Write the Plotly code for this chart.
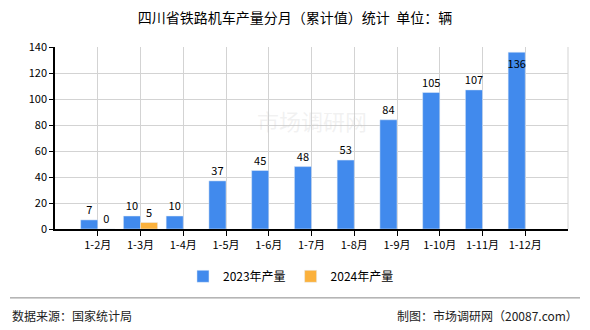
import plotly.graph_objects as go

categories = ["1-2月", "1-3月", "1-4月", "1-5月", "1-6月", "1-7月", "1-8月", "1-9月", "1-10月", "1-11月", "1-12月"]
values_2023 = [7, 10, 10, 37, 45, 48, 53, 84, 105, 107, 136]
values_2024 = [0, 5, None, None, None, None, None, None, None, None, None]
series_names = ["2023年产量", "2024年产量"]
y_ticks = [0, 20, 40, 60, 80, 100, 120, 140]

FONT = "SimSun, 'Noto Sans CJK SC', sans-serif"
BLUE = "#418AED"
ORANGE = "#FBB13C"

pos_2023 = ["outside"] * (len(values_2023) - 1) + ["inside"]

fig = go.Figure()
fig.add_trace(go.Bar(
    x=categories, y=values_2023, name=series_names[0], marker_color=BLUE,
    text=[str(v) for v in values_2023], textposition=pos_2023, textangle=0,
    insidetextanchor="end", cliponaxis=False, constraintext="none",
    textfont=dict(color="black", size=11, family=FONT),
    outsidetextfont=dict(color="black", size=11, family=FONT),
    insidetextfont=dict(color="black", size=11, family=FONT),
))
fig.add_trace(go.Bar(
    x=categories, y=values_2024, name=series_names[1], marker_color=ORANGE,
    text=[("" if v is None else str(v)) for v in values_2024], textposition="outside",
    textangle=0, cliponaxis=False, constraintext="none",
    textfont=dict(color="black", size=11, family=FONT),
))

fig.update_layout(
    width=590, height=330,
    margin=dict(l=55, r=22, t=47, b=101),
    plot_bgcolor="white", paper_bgcolor="white",
    barmode="group", bargap=0.2, bargroupgap=0,
    font=dict(family=FONT, size=11, color="black"),
    title=dict(text="四川省铁路机车产量分月（累计值）统计  单位：辆", x=0.5, xanchor="center",
               y=0.945, yanchor="middle", font=dict(size=14, family=FONT, color="black")),
    legend=dict(orientation="h", x=0.46, xanchor="center", y=-0.26, yanchor="middle",
                font=dict(size=12, family=FONT), itemwidth=30, traceorder="normal"),
)
fig.update_xaxes(
    type="category", range=[-1, len(categories)],
    showline=True, linecolor="black", linewidth=1.5,
    ticks="outside", ticklen=5, tickcolor="black",
    showgrid=True, gridcolor="#d3d3d3", gridwidth=1,
    tickfont=dict(size=11, family=FONT), mirror=False,
)
fig.update_yaxes(
    range=[0, 140], tickvals=y_ticks,
    showline=True, linecolor="black", linewidth=1.5,
    ticks="outside", ticklen=4, tickcolor="black",
    showgrid=True, gridcolor="#d3d3d3", gridwidth=1,
    tickfont=dict(size=11, family=FONT), zeroline=False,
)
# right border of plot area
fig.add_shape(type="line", xref="paper", yref="paper", x0=1, x1=1, y0=0, y1=1,
              line=dict(color="#d3d3d3", width=1))
# footer separator
fig.add_shape(type="line", xref="paper", yref="paper", x0=-45/513, x1=525/513,
              y0=-69/182.3, y1=-69/182.3, line=dict(color="#888888", width=1))
fig.add_annotation(text="数据来源：国家统计局", xref="paper", yref="paper",
                   x=-45/513, y=-87/182.3, xanchor="left", yanchor="middle",
                   showarrow=False, font=dict(size=12, family=FONT, color="#222"))
fig.add_annotation(text="制图：市场调研网（20087.com）", xref="paper", yref="paper",
                   x=525/513, y=-87/182.3, xanchor="right", yanchor="middle",
                   showarrow=False, font=dict(size=12, family=FONT, color="#222"))
fig.add_annotation(text="市场调研网", xref="paper", yref="paper", x=0.5, y=0.6,
                   showarrow=False, font=dict(size=22, family=FONT, color="rgba(200,200,200,0.25)"))

fig.write_html("out.html")
